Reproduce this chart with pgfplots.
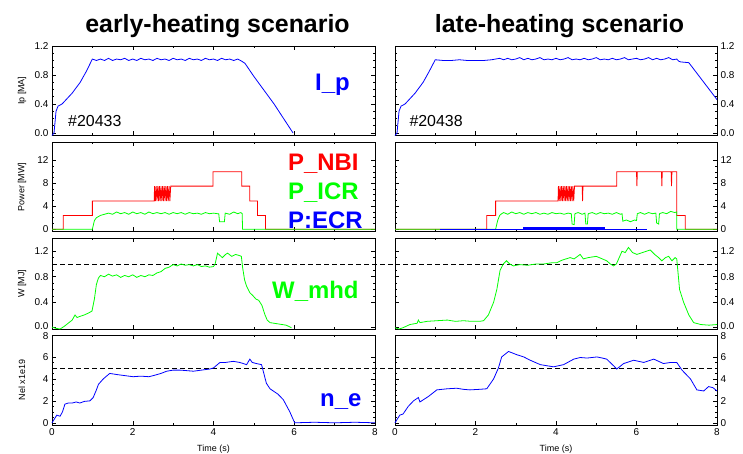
\documentclass[border=0pt]{standalone}
\usepackage{fontspec}
\setmainfont{Liberation Sans}
\usepackage{pgfplots}
\pgfplotsset{compat=1.18}
\definecolor{cblue}{RGB}{0,0,255}
\definecolor{cred}{RGB}{255,0,0}
\definecolor{cgreen}{RGB}{0,255,0}
\pgfplotsset{
  base/.style={scale only axis, width=323bp, xmin=0, xmax=8,
    xtick={0,2,4,6,8}, minor x tick num=1, minor y tick num=3,
    tick align=inside, major tick length=4bp, minor tick length=2bp,
    axis line style={line width=0.6pt}, tick style={line width=0.5pt, black},
    ticklabel style={font=\fontsize{10}{12}\selectfont},
    yticklabel style={inner ysep=0pt},
    /pgf/number format/assume math mode=true,
    anchor=north west, clip=false,
    ylabel style={font=\fontsize{9}{11}\selectfont, at={(axis description cs:-0.093,0.5)}, anchor=center},
    xlabel style={font=\fontsize{9}{11}\selectfont, at={(axis description cs:0.5,-0.27)}, anchor=center}},
  rightcol/.style={width=322bp, yticklabel pos=right},
  nox/.style={xticklabels={}},
  onedec/.style={yticklabel style={/pgf/number format/fixed, /pgf/number format/fixed zerofill, /pgf/number format/precision=1}},
  ipax/.style={height=89.5bp, ymin=-0.035, ymax=1.2, ytick={0,0.4,0.8,1.2}, onedec, nox},
  pax/.style={height=89bp, ymin=-0.4, ymax=15.1, ytick={0,4,8,12}, nox},
  wax/.style={height=90.5bp, ymin=-0.02, ymax=1.4, ytick={0.4,0.8,1.2}, onedec, nox,
    extra y ticks={0}, extra y tick labels={0.0}, extra y tick style={yticklabel style={yshift=2bp}}},
  nax/.style={height=90bp, ymin=-0.2, ymax=8, ytick={0,2,4,6},
    extra y ticks={8}, extra y tick labels={8}, extra y tick style={yticklabel style={yshift=-1.5bp}}},
  dl/.style={black, dash pattern=on 5bp off 3bp, line width=0.7pt},
  sig/.style={line width=0.8pt}
}
\begin{document}
\begin{tikzpicture}
\useasboundingbox (0,0) rectangle (743bp,454bp);
% ---------------- titles
\node[anchor=base, font=\fontsize{25}{30}\selectfont\bfseries] at (217.5bp,421bp) {early-heating scenario};
\node[anchor=base, font=\fontsize{25}{30}\selectfont\bfseries] at (559.5bp,421bp) {late-heating scenario};

% ================= LEFT COLUMN =================
\begin{axis}[base, ipax, at={(52bp,408bp)}, ylabel={Ip [MA]}]
\addplot[cblue, sig] coordinates {
(0,-0.035)(0.05,0.0)(0.1,0.3)(0.15,0.37)(0.25,0.4)(0.5,0.55)(0.7,0.7)(0.85,0.85)(1.0,1.02)
(1.05,1.01)(1.1,1.0)(1.2,1.02)(1.3,1.0)(1.4,1.03)(1.5,1.0)(1.6,1.02)(1.7,1.01)(1.8,1.03)(1.9,1.0)
(2.0,1.02)(2.1,1.0)(2.2,1.03)(2.3,1.01)(2.4,1.02)(2.5,1.0)(2.6,1.03)(2.7,1.01)(2.8,1.02)(2.9,1.0)
(3.0,1.03)(3.1,1.01)(3.2,1.02)(3.3,1.0)(3.4,1.03)(3.5,1.01)(3.6,1.02)(3.7,1.0)(3.8,1.03)(3.9,1.01)
(4.0,1.02)(4.1,1.0)(4.2,1.03)(4.3,1.01)(4.4,1.02)(4.5,1.0)(4.6,1.02)(4.7,0.99)(4.78,0.96)
(5.0,0.78)(5.5,0.4)(5.97,0.0)};
\end{axis}

\begin{axis}[base, pax, at={(52bp,311.5bp)}, ylabel={Power [MW]}]
\addplot[cred, sig] coordinates {
(0,0)(0.28,0)(0.28,2.4)(1.0,2.4)(1.0,4.9)(2.53,4.9)
(2.54,7.5)(2.56,4.9)(2.58,7.5)(2.60,4.9)(2.62,7.5)(2.64,4.9)(2.66,7.5)(2.68,4.9)(2.70,7.5)(2.72,4.9)
(2.74,7.5)(2.76,4.9)(2.78,7.5)(2.80,4.9)(2.82,7.5)(2.84,4.9)(2.86,7.5)(2.88,4.9)(2.90,7.5)(2.92,4.9)(2.94,7.5)
(3.99,7.5)(3.99,10.0)(4.7,10.0)(4.7,7.5)(4.9,7.5)(4.9,4.9)(5.09,4.9)(5.09,2.4)(5.29,2.4)(5.29,0)(8,0)};
\addplot[cgreen, sig] coordinates {
(0,0)(1.0,0)(1.05,1.5)(1.1,2.0)(1.2,2.4)(1.3,2.6)(1.4,2.8)(1.5,2.6)(1.6,3.0)(1.7,2.7)(1.8,2.9)(1.9,2.6)
(2.0,3.0)(2.1,2.7)(2.2,2.9)(2.3,2.6)(2.4,3.0)(2.5,2.7)(2.6,2.9)(2.7,2.7)(2.8,2.9)(2.9,2.6)(3.0,2.9)
(3.1,2.7)(3.2,2.9)(3.3,2.6)(3.4,2.9)(3.5,2.7)(3.6,2.8)(3.7,2.6)(3.8,2.9)(3.9,2.7)(4.0,2.8)(4.1,2.7)
(4.13,2.7)(4.15,1.3)(4.27,1.3)(4.29,2.8)(4.4,2.6)(4.5,3.0)(4.6,2.7)(4.68,2.9)(4.71,2.7)(4.72,0)(8,0)};
\end{axis}

\begin{axis}[base, wax, at={(52bp,215.5bp)}, ylabel={W [MJ]}]
\addplot[dl] coordinates {(0,1)(8.5,1)};
\addplot[cgreen, sig] coordinates {
(0,0.01)(0.1,-0.01)(0.2,-0.02)(0.3,0.02)(0.4,0.07)(0.5,0.12)(0.57,0.2)(0.62,0.16)(0.7,0.18)(0.8,0.2)
(0.9,0.23)(0.99,0.26)(1.05,0.45)(1.1,0.68)(1.15,0.78)(1.2,0.82)(1.3,0.8)(1.4,0.84)(1.5,0.81)(1.6,0.83)
(1.7,0.79)(1.8,0.82)(1.9,0.8)(2.0,0.83)(2.1,0.79)(2.2,0.82)(2.3,0.8)(2.4,0.83)(2.5,0.82)(2.6,0.86)
(2.7,0.88)(2.8,0.93)(2.9,0.95)(3.0,0.99)(3.1,0.97)(3.2,1.0)(3.3,0.98)(3.4,0.99)(3.5,0.97)(3.6,0.99)
(3.7,0.96)(3.8,0.97)(3.9,0.95)(4.0,0.96)(4.04,1.0)(4.1,1.17)(4.15,1.14)(4.22,1.1)(4.3,1.15)(4.35,1.17)
(4.45,1.12)(4.55,1.15)(4.65,1.13)(4.69,1.12)(4.72,0.95)(4.77,0.75)(4.82,0.65)(4.9,0.55)(4.98,0.5)
(5.05,0.45)(5.12,0.43)(5.2,0.35)(5.27,0.21)(5.33,0.12)(5.4,0.08)(5.5,0.07)(5.6,0.06)(5.8,0.04)(5.93,0.0)};
\end{axis}

\begin{axis}[base, nax, at={(52bp,119bp)}, ylabel={Nel x1e19}, xlabel={Time (s)}]
\addplot[dl] coordinates {(0,5)(8.5,5)};
\addplot[cblue, sig] coordinates {
(0,0)(0.05,0.3)(0.12,0.7)(0.2,0.6)(0.26,1.0)(0.32,1.7)(0.4,1.8)(0.5,1.8)(0.6,1.9)(0.69,1.8)(0.8,1.95)
(0.94,2.0)(1.02,2.3)(1.1,3.0)(1.15,3.5)(1.27,4.0)(1.43,4.5)(1.6,4.4)(1.8,4.3)(2.01,4.2)(2.2,4.25)
(2.4,4.2)(2.51,4.3)(2.7,4.5)(2.84,4.7)(3.0,4.8)(3.17,4.8)(3.35,4.75)(3.5,4.7)(3.7,4.8)(3.91,4.9)
(4.0,5.0)(4.16,5.5)(4.3,5.5)(4.49,5.6)(4.65,5.5)(4.82,5.3)(4.9,5.8)(4.96,5.5)(5.06,5.4)(5.19,5.3)
(5.31,3.6)(5.4,3.1)(5.48,2.9)(5.6,2.6)(5.73,2.1)(5.89,1.0)(6.01,0.0)(6.5,0.05)(7,0.0)(7.5,0.05)(8,0.0)};
\end{axis}

% ================= RIGHT COLUMN =================
\begin{axis}[base, rightcol, ipax, at={(395bp,408bp)}]
\addplot[cblue, sig] coordinates {
(0,-0.035)(0.05,0.0)(0.1,0.3)(0.15,0.37)(0.25,0.4)(0.5,0.55)(0.7,0.7)(0.85,0.85)(1.0,1.01)
(1.2,1.0)(1.4,1.0)(1.6,1.01)(1.8,1.0)(2.0,1.0)(2.2,1.0)(2.4,1.01)(2.5,1.02)(2.6,1.03)(2.7,1.01)
(2.8,1.03)(2.9,1.01)(3.0,1.02)(3.1,1.04)(3.2,1.01)(3.3,1.03)(3.4,1.01)(3.5,1.02)(3.6,1.04)(3.7,1.01)
(3.8,1.02)(3.9,1.01)(4.0,1.03)(4.1,1.01)(4.2,1.02)(4.3,1.04)(4.4,1.01)(4.5,1.02)(4.6,1.01)(4.7,1.03)
(4.8,1.01)(4.9,1.02)(5.0,1.04)(5.1,1.01)(5.2,1.02)(5.3,1.01)(5.4,1.03)(5.5,1.01)(5.6,1.02)(5.7,1.04)
(5.8,1.01)(5.9,1.02)(6.0,1.03)(6.1,1.01)(6.2,1.02)(6.3,1.04)(6.4,1.01)(6.5,1.03)(6.6,1.01)(6.7,1.02)
(6.8,1.04)(6.9,1.01)(7.0,1.02)(7.05,0.99)(7.1,0.98)(7.3,0.97)(8,0.46)};
\end{axis}

\begin{axis}[base, rightcol, pax, at={(395bp,311.5bp)}]
\addplot[cred, sig] coordinates {
(0,0)(2.28,0)(2.28,2.4)(2.5,2.4)(2.5,4.9)(4.05,4.9)
(4.06,7.5)(4.08,4.9)(4.10,7.5)(4.12,4.9)(4.14,7.5)(4.16,4.9)(4.18,7.5)(4.20,4.9)(4.22,7.5)(4.24,4.9)
(4.26,7.5)(4.28,4.9)(4.30,7.5)(4.32,4.9)(4.34,7.5)(4.36,4.9)(4.38,7.5)(4.40,4.9)(4.42,7.5)(4.44,4.9)(4.46,7.5)
(4.65,7.5)(4.66,4.9)(4.67,7.5)(5.51,7.5)(5.51,10.0)(6.0,10.0)(6.01,7.5)(6.02,10.0)(6.62,10.0)(6.63,7.5)
(6.64,10.0)(6.86,10.0)(6.87,7.5)(6.88,10.0)(7.0,10.0)(7.0,2.4)(7.21,2.4)(7.21,0)(8,0)};
\addplot[cgreen, sig] coordinates {
(0,0)(2.5,0)(2.55,1.5)(2.6,2.4)(2.65,2.7)(2.7,2.9)(2.8,2.6)(2.9,3.0)(3.0,2.7)(3.1,2.9)(3.2,2.6)(3.3,2.9)
(3.4,2.7)(3.5,2.9)(3.6,2.6)(3.7,2.8)(3.8,2.6)(3.9,2.9)(4.0,2.7)(4.1,2.8)(4.2,2.6)(4.3,2.8)(4.38,2.7)
(4.4,0.9)(4.45,0.8)(4.47,2.7)(4.55,2.9)(4.65,2.6)(4.72,2.8)(4.74,0.9)(4.78,0.9)(4.8,2.7)(4.9,2.9)
(5.0,2.6)(5.1,2.9)(5.2,2.7)(5.3,2.8)(5.4,2.6)(5.5,2.9)(5.6,2.6)(5.64,2.7)(5.66,1.4)(5.75,1.6)(5.85,1.3)
(5.95,1.6)(6.0,1.5)(6.02,2.7)(6.1,2.9)(6.2,2.6)(6.3,2.9)(6.4,2.7)(6.48,2.8)(6.5,1.1)(6.55,0.9)(6.57,2.7)
(6.65,2.9)(6.75,2.7)(6.85,3.1)(6.95,2.9)(7.0,3.0)(7.0,0)(8,0)};
\addplot[cblue, line width=0.6pt] coordinates {(1.12,0.05)(6.26,0.05)};
\addplot[cblue, line width=2.5pt] coordinates {(3.19,0.2)(5.22,0.2)};
\end{axis}

\begin{axis}[base, rightcol, wax, at={(395bp,215.5bp)}]
\addplot[dl] coordinates {(0,1)(8,1)};
\addplot[cgreen, sig] coordinates {
(0,0.0)(0.1,-0.02)(0.2,0.0)(0.37,0.05)(0.55,0.07)(0.58,0.12)(0.62,0.08)(0.8,0.1)(1.04,0.11)(1.3,0.12)
(1.5,0.1)(1.7,0.11)(1.9,0.1)(2.1,0.1)(2.2,0.11)(2.32,0.2)(2.45,0.4)(2.53,0.6)(2.61,0.9)(2.69,1.0)
(2.77,1.05)(2.85,1.0)(2.94,0.97)(3.1,0.99)(3.3,0.98)(3.5,1.0)(3.7,1.0)(3.9,1.02)(4.02,1.02)(4.15,1.06)
(4.35,1.1)(4.45,1.08)(4.6,1.15)(4.68,1.08)(4.8,1.1)(5.0,1.12)(5.15,1.08)(5.26,1.05)(5.35,1.0)(5.43,0.97)
(5.5,1.0)(5.64,1.2)(5.72,1.18)(5.8,1.26)(5.9,1.18)(6.01,1.15)(6.15,1.18)(6.34,1.22)(6.45,1.15)(6.55,1.1)
(6.63,1.05)(6.72,1.1)(6.8,1.12)(6.88,1.05)(6.96,1.1)(7.0,1.08)(7.07,0.6)(7.17,0.4)(7.3,0.2)(7.42,0.08)
(7.6,0.05)(7.8,0.04)(8,0.05)};
\end{axis}

\begin{axis}[base, rightcol, nax, at={(395bp,119bp)}, xlabel={Time (s)}]
\addplot[dl] coordinates {(0,5)(8,5)};
\addplot[cblue, sig] coordinates {
(0,0)(0.05,0.3)(0.12,0.7)(0.2,0.8)(0.33,1.5)(0.46,2.0)(0.58,2.3)(0.62,1.9)(0.83,2.4)(1.04,3.0)
(1.3,3.1)(1.53,3.15)(1.7,3.05)(1.86,3.0)(2.1,3.05)(2.28,3.1)(2.45,4.0)(2.57,5.0)(2.65,6.0)(2.82,6.5)
(3.03,6.2)(3.2,6.0)(3.36,5.7)(3.61,5.3)(3.94,5.1)(4.19,5.3)(4.44,5.8)(4.6,5.95)(4.77,5.9)(5.02,6.0)
(5.15,5.9)(5.26,5.8)(5.43,5.2)(5.51,4.9)(5.68,5.4)(5.93,5.7)(6.18,5.5)(6.43,5.8)(6.67,5.4)(6.85,5.5)
(7.0,5.5)(7.13,4.8)(7.34,4.0)(7.5,3.0)(7.67,2.9)(7.79,3.3)(7.9,3.2)(8,2.9)};
\end{axis}

% ---------------- in-panel labels
\node[anchor=base west, font=\fontsize{24}{28}\selectfont\bfseries, text=cblue, inner sep=0] at (315bp,363bp) {I\_p};
\node[anchor=base west, font=\fontsize{16}{19}\selectfont, inner sep=0] at (68bp,327.3bp) {\#20433};
\node[anchor=base west, font=\fontsize{16}{19}\selectfont, inner sep=0] at (409.3bp,327.3bp) {\#20438};
\node[anchor=base west, font=\fontsize{24}{28}\selectfont\bfseries, text=cred, inner sep=0] at (288bp,283.3bp) {P\_NBI};
\node[anchor=base west, font=\fontsize{24}{28}\selectfont\bfseries, text=cgreen, inner sep=0] at (288bp,254bp) {P\_ICR};
\node[anchor=base west, font=\fontsize{24}{28}\selectfont\bfseries, text=cblue, inner sep=0] at (288bp,225.5bp) {P:ECR};
\node[anchor=base west, font=\fontsize{24}{28}\selectfont\bfseries, text=cgreen, inner sep=0] at (272bp,155bp) {W\_mhd};
\node[anchor=base west, font=\fontsize{24}{28}\selectfont\bfseries, text=cblue, inner sep=0] at (320bp,47.3bp) {n\_e};
\end{tikzpicture}
\end{document}
